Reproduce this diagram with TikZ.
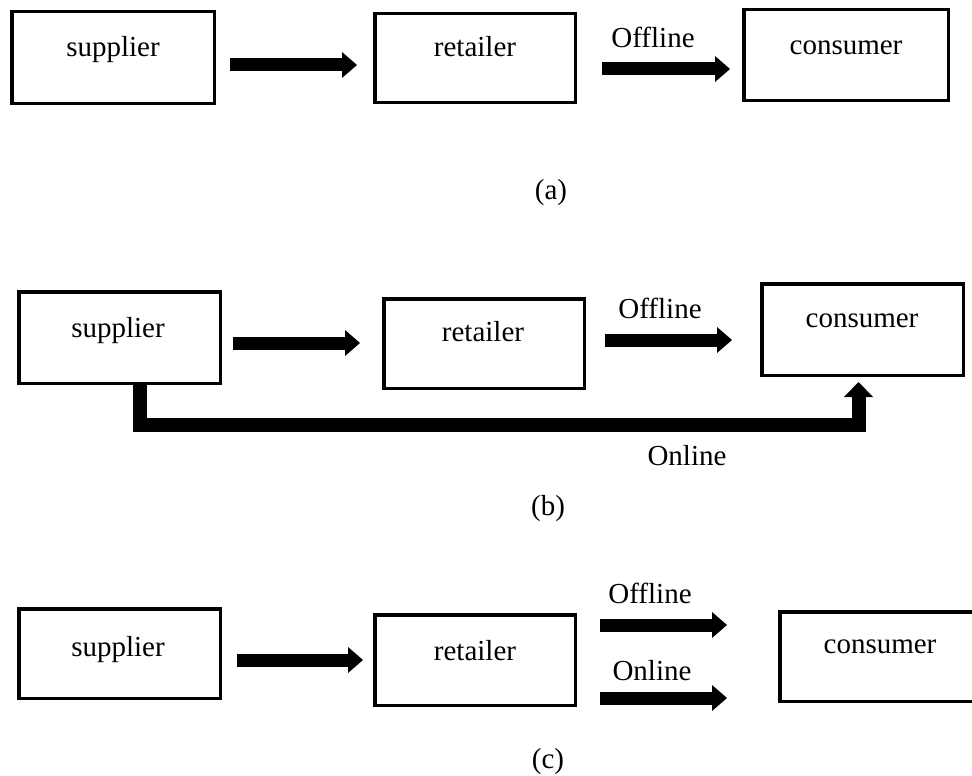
\documentclass[tikz,border=0pt]{standalone}
\usepackage{fontspec}
\setmainfont{Liberation Serif}
\usetikzlibrary{arrows.meta,calc}
\begin{document}
\begin{tikzpicture}[x=1pt,y=-1pt,
  box/.style={draw=black, line width=3.5pt, inner sep=0pt, fill=white},
  txt/.style={anchor=base, inner sep=0pt, font=\fontsize{29}{32}\selectfont},
  fat/.style={line width=13pt, line cap=butt, -{Triangle[width=26pt,length=15pt,line width=0pt]}},
  fatonline/.style={line width=14pt, line cap=butt, line join=miter, -{Triangle[width=29pt,length=15pt,line width=0pt]}}]
\clip (0,0) rectangle (972,776);
\fill[white] (0,0) rectangle (972,776);
% ---------- (a)
\node[box, minimum width=202.5pt, minimum height=91.5pt] (sa) at (113,57.5) {};
\node[box, minimum width=200.5pt, minimum height=88.5pt] (ra) at (475,58) {};
\node[box, minimum width=204.5pt, minimum height=90.5pt] (ca) at (846,55) {};
\node[txt] (tsa) at (113,57) {supplier};
\node[txt] (tra) at (475,57) {retailer};
\node[txt] (tca) at (846,55) {consumer};
\node[txt] (toffa) at (653,48) {Offline};
\node[txt] (la) at (551,199) {(a)};
\coordinate (a1s) at (230,65); \coordinate (a1e) at (357,65);
\coordinate (a2s) at (602,69); \coordinate (a2e) at (730,69);
\draw[fat] (a1s) -- (a1e);
\draw[fat] (a2s) -- (a2e);
% ---------- (b)
\node[box, minimum width=201.5pt, minimum height=91.5pt] (sb) at (119.5,337.5) {};
\node[box, minimum width=200.5pt, minimum height=89.5pt] (rb) at (484,343.5) {};
\node[box, minimum width=201.5pt, minimum height=91.5pt] (cb) at (862.5,329.5) {};
\node[txt] (tsb) at (118,337) {supplier};
\node[txt] (trb) at (483,341) {retailer};
\node[txt] (tcb) at (862,327) {consumer};
\node[txt] (toffb) at (660,318) {Offline};
\node[txt] (tonb) at (687,465) {Online};
\node[txt] (lb) at (548,515) {(b)};
\coordinate (b1s) at (233,343); \coordinate (b1e) at (360,343);
\coordinate (b2s) at (605,340); \coordinate (b2e) at (732,340);
\draw[fat] (b1s) -- (b1e);
\draw[fat] (b2s) -- (b2e);
\coordinate (oc1) at (140,425);
\coordinate (oc2) at (858.5,425);
\coordinate (otip) at (858.5,382);
\draw[fatonline] (sb.south -| oc1) -- (oc1) -- (oc2) -- (otip);
% ---------- (c)
\node[box, minimum width=201.5pt, minimum height=89.5pt] (sc) at (119.5,653.5) {};
\node[box, minimum width=200.5pt, minimum height=90.5pt] (rc) at (475,660) {};
\node[box, minimum width=201.5pt, minimum height=89.5pt] (cc) at (880.5,656.5) {};
\node[txt] (tsc) at (118,656) {supplier};
\node[txt] (trc) at (475,660) {retailer};
\node[txt] (tcc) at (880,653) {consumer};
\node[txt] (toffc) at (650,603) {Offline};
\node[txt] (tonc) at (652,680) {Online};
\node[txt] (lc) at (548,768) {(c)};
\coordinate (c1s) at (237,660); \coordinate (c1e) at (363,660);
\coordinate (c2s) at (600,625); \coordinate (c2e) at (727,625);
\coordinate (c3s) at (600,698); \coordinate (c3e) at (727,698);
\draw[fat] (c1s) -- (c1e);
\draw[fat] (c2s) -- (c2e);
\draw[fat] (c3s) -- (c3e);
\end{tikzpicture}
\end{document}
